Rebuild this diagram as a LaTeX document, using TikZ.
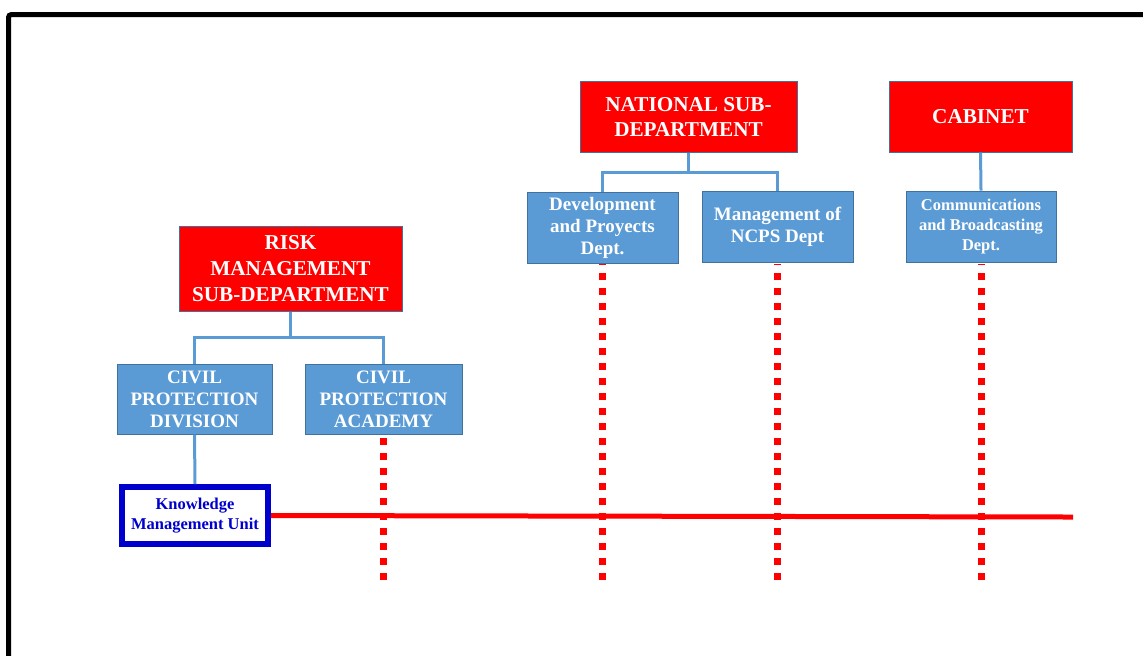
\documentclass[tikz,border=0pt]{standalone}
\usepackage{fontspec}
\setmainfont{Liberation Serif}
\definecolor{boxred}{RGB}{255,0,0}
\definecolor{boxblue}{RGB}{91,155,213}
\definecolor{edgeblue}{RGB}{65,113,156}
\definecolor{kmublue}{RGB}{0,0,204}
\definecolor{linered}{RGB}{255,0,0}
\tikzset{
  redbox/.style={fill=boxred, draw=edgeblue, line width=0.5pt, text=white, font=\bfseries\fontsize{10.6}{13}\selectfont, align=center, inner sep=0pt},
  bluebox/.style={fill=boxblue, draw=edgeblue, line width=0.5pt, text=white, font=\bfseries\fontsize{9.5}{11}\selectfont, align=center, inner sep=0pt},
  kmubox/.style={fill=white, draw=kmublue, line width=3pt, text=kmublue, font=\bfseries\fontsize{8.25}{10}\selectfont, align=center, inner sep=0pt},
  conn/.style={draw=boxblue, line width=1.5pt},
  dotline/.style={draw=linered, line width=3.5pt, dash pattern=on 3.5pt off 4pt},
  solidred/.style={draw=linered, line width=2.5pt},
}
\begin{document}
\begin{tikzpicture}[x=0.5pt,y=-0.5pt]
\useasboundingbox (0,0) rectangle (1143,655);
\clip (0,0) rectangle (1143,655);
% frame
\draw[line width=2.5pt, rounded corners=1.5pt] (8.5,670) -- (8.5,14.5) -- (1160,14.5);

% dotted line ends
\coordinate (da) at (383.5,580);
\coordinate (dd) at (602.5,580);
\coordinate (dn) at (777.5,580);
\coordinate (dc) at (981,580);

% nodes
\node[redbox, minimum width=108.5pt, minimum height=35.5pt] (nat) at (688.5,116.5) {NATIONAL SUB-\\[-0.5pt]DEPARTMENT};
\node[redbox, minimum width=91.5pt, minimum height=35.5pt] (cab) at (980.5,116.5) {CABINET};
\node[bluebox, minimum width=75.5pt, minimum height=35.5pt] (dev) at (602.5,227.5) {Development\\and Proyects\\Dept.};
\node[bluebox, minimum width=75.5pt, minimum height=35.5pt] (ncps) at (777.5,226.5) {Management of\\NCPS Dept};
\node[bluebox, minimum width=75pt, minimum height=35.5pt, font=\bfseries\fontsize{8.25}{10}\selectfont] (com) at (981,226.5) {Communications\\and Broadcasting\\Dept.};
\node[redbox, minimum width=111.5pt, minimum height=42.5pt] (risk) at (290.5,268.5) {RISK\\MANAGEMENT\\SUB-DEPARTMENT};
\node[bluebox, minimum width=77.5pt, minimum height=35pt] (div) at (194.5,399) {CIVIL\\PROTECTION\\DIVISION};
\node[bluebox, minimum width=78.5pt, minimum height=35pt] (acad) at (383.5,399) {CIVIL\\PROTECTION\\ACADEMY};
\node[kmubox, minimum width=73pt, minimum height=28.5pt] (kmu) at (195,515.5) {Knowledge\\Management Unit};

% red dotted lines, drawn from the bottom end up so the dots end cleanly
\begin{scope}
\clip (0,436) rectangle (1143,655);
\draw[dotline] (da) -- (acad.center);
\end{scope}
\begin{scope}
\clip (0,264) rectangle (1143,655);
\draw[dotline] (dd) -- (dev.center);
\draw[dotline] (dn) -- (ncps.center);
\draw[dotline] (dc) -- (com.center);
\end{scope}

% blue connectors
\draw[conn] (nat.south) -- ++(0,20) coordinate (nb);
\draw[conn] (dev.north) |- (nb) -| (ncps.north);
\draw[conn] (cab.south) -- (com.north);
\draw[conn] (risk.south) -- ++(0,26) coordinate (rb);
\draw[conn] (div.north) |- (rb) -| (acad.north);
\draw[conn] (div.south) -- (kmu.north);

% red solid line
\coordinate (redend) at (1073,517);
\draw[solidred] (kmu.east) -- (redend);
\end{tikzpicture}
\end{document}
